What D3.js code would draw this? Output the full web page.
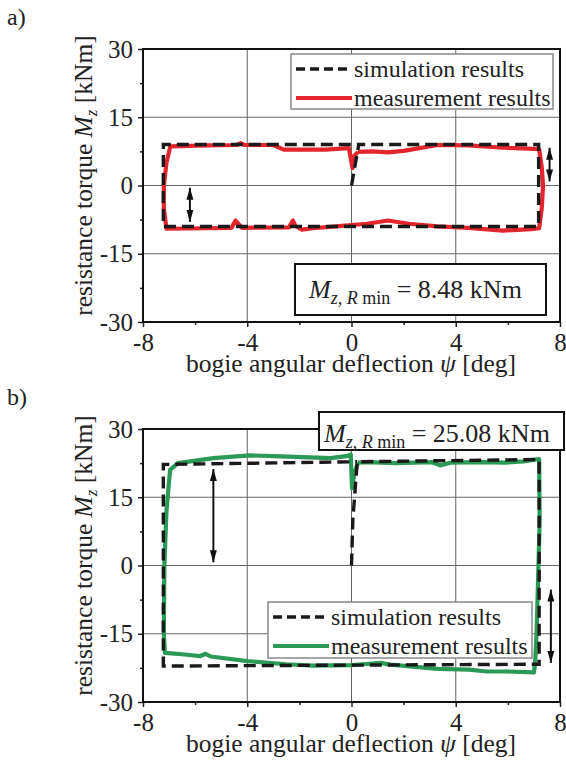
<!DOCTYPE html>
<html>
<head>
<meta charset="utf-8">
<script src="https://cdn.jsdelivr.net/npm/d3@7"></script>
<style>
  body { margin: 0; background: #fff; }
  text { font-family: 'Liberation Serif', 'Times New Roman', serif; fill: #222; }
</style>
</head>
<body>
<div id="chart"></div>
<script>
// ticks and labels
let xMajor = [-8, -4, 0, 4, 8],
    xMinor = [-6, -2, 2, 6],
    yMajor = [-30, -15, 0, 15, 30],
    yMinor = [-22.5, -7.5, 7.5, 22.5];

let legendLabels = ['simulation results', 'measurement results'];

// a) [psi deg, Mz kNm]
let simA = [[0, 0], [0.28, 9.0], [7.18, 9.0], [7.18, -9.0], [-7.22, -9.0], [-7.22, 9.0], [0.28, 9.0]];
let measA = [
    [0.25, 7.4], [0.8, 7.5], [1.4, 7.3], [2.0, 7.6], [2.5, 8.1], [3.3, 8.9], [4.5, 8.8], [5.8, 8.3], [6.8, 8.1], [7.2, 8.0],
    [7.3, 4], [7.35, 0], [7.3, -5], [7.2, -9.4],
    [6.9, -9.6], [5.8, -9.9], [4.5, -9.3], [3.3, -9.0], [2.2, -8.4], [1.4, -7.7], [0.6, -8.4], [-0.6, -9.0], [-1.5, -9.4],
    [-1.9, -9.7], [-2.15, -8.9], [-2.25, -7.7], [-2.4, -9.2], [-4.2, -9.3], [-4.45, -7.7], [-4.6, -9.3], [-5.5, -9.4], [-7.1, -9.5],
    [-7.2, -5], [-7.2, 0], [-7.1, 5], [-6.95, 8.6],
    [-5.5, 8.8], [-4.4, 8.9], [-4.25, 9.3], [-4.1, 8.9], [-3.0, 8.9], [-2.6, 7.9], [-1.0, 7.9], [-0.1, 8.2],
    [0.04, 3.8], [0.1, 6.5], [0.25, 7.4]
];
let arrowsA = [[-6.2, -0.5, -8.0], [7.6, 8.3, 0.9]];
let minA = '8.48';

// b)
let simB = [[0, 0], [0.05, 10], [0.22, 22.8], [7.2, 23.3], [7.2, -21.7], [0, -21.9], [-7.22, -22.1], [-7.22, 22.2], [0.22, 22.8]];
let measB = [
    [0.25, 22.6], [0.6, 22.7], [1.7, 22.5], [3.1, 22.7], [3.4, 22.0], [3.8, 22.6], [5.0, 22.7], [5.9, 22.6], [6.6, 22.9], [7.2, 23.4],
    [7.22, 10], [7.15, -5], [7.1, -15], [7.05, -21], [7.0, -23.5],
    [6.0, -23.3], [5.2, -23.3], [4.5, -22.9], [3.3, -22.7], [1.5, -21.8], [1.1, -21.4], [0.7, -21.6], [0.0, -21.9],
    [-1.5, -22.0], [-2.5, -21.7], [-4.0, -21.0], [-5.4, -20.0], [-5.6, -19.4], [-5.8, -19.9], [-6.5, -19.5], [-7.16, -19.2],
    [-7.2, -15], [-7.18, 0], [-7.1, 12], [-6.96, 21.0], [-6.66, 22.5], [-5.3, 23.6], [-3.9, 24.2], [-2.7, 24.0],
    [-0.8, 23.6], [-0.13, 24.1], [-0.03, 24.4], [0.02, 17.0], [0.12, 20.5], [0.25, 22.6]
];
let arrowsB = [[-5.3, 21.2, 0.7], [7.65, -5.3, -21.4]];
let minB = '25.08';

let width = 566, height = 760;

let svg = d3.select('#chart').append('svg')
    .attr('width', width)
    .attr('height', height);

svg.append('defs').append('marker')
    .attr('id', 'head')
    .attr('viewBox', '0 -4 12 8')
    .attr('refX', 12)
    .attr('refY', 0)
    .attr('markerWidth', 12)
    .attr('markerHeight', 8)
    .attr('markerUnits', 'userSpaceOnUse')
    .attr('orient', 'auto-start-reverse')
    .append('path')
    .attr('d', 'M0,-3.5L12,0L0,3.5Z')
    .attr('fill', '#111');

function drawPanel(p) {
    let x = d3.scaleLinear().domain([-8, 8]).range([143, 560]);
    let y = d3.scaleLinear().domain([-30, 30]).range([p.bottom, p.top]);
    let g = svg.append('g');

    svg.append('text')
        .attr('x', 7)
        .attr('y', p.tagY)
        .style('font-size', '24px')
        .text(p.tag);

    // grid
    g.append('g').selectAll('line')
        .data(xMajor.slice(1, -1))
        .join('line')
        .attr('x1', d => x(d)).attr('x2', d => x(d))
        .attr('y1', p.top).attr('y2', p.bottom)
        .attr('stroke', '#666').attr('stroke-width', 1);

    g.append('g').selectAll('line')
        .data(yMajor.slice(1, -1))
        .join('line')
        .attr('y1', d => y(d)).attr('y2', d => y(d))
        .attr('x1', x(-8)).attr('x2', x(8))
        .attr('stroke', '#666').attr('stroke-width', 1);

    // axes
    let styleAxis = sel => {
        sel.select('.domain').remove();
        sel.attr('font-family', null).attr('font-size', null).style('color', '#222');
        sel.selectAll('line').attr('stroke-width', 1.5);
        sel.selectAll('text').style('font-size', '25px');
    };

    g.append('g')
        .attr('transform', `translate(0,${p.bottom})`)
        .call(d3.axisBottom(x).tickValues(xMajor).tickSize(5).tickPadding(6).tickFormat(d => String(d)))
        .call(styleAxis);

    g.append('g')
        .attr('transform', `translate(0,${p.bottom})`)
        .call(d3.axisBottom(x).tickValues(xMinor).tickSize(3).tickFormat(''))
        .call(styleAxis);

    g.append('g')
        .attr('transform', `translate(${x(-8)},0)`)
        .call(d3.axisLeft(y).tickValues(yMajor).tickSize(5).tickPadding(5).tickFormat(d => String(d)))
        .call(styleAxis);

    g.append('g')
        .attr('transform', `translate(${x(-8)},0)`)
        .call(d3.axisLeft(y).tickValues(yMinor).tickSize(3).tickFormat(''))
        .call(styleAxis);

    // curves
    let line = d3.line()
        .x(d => x(d[0]))
        .y(d => y(d[1]));

    g.append('path')
        .datum(p.meas)
        .attr('d', line)
        .attr('fill', 'none')
        .attr('stroke', p.color)
        .attr('stroke-width', 4.2)
        .attr('stroke-linejoin', 'round');

    g.append('path')
        .datum(p.sim)
        .attr('d', line)
        .attr('fill', 'none')
        .attr('stroke', '#1a1a1a')
        .attr('stroke-width', 3.4)
        .attr('stroke-dasharray', '12,6');

    // double arrows
    g.append('g').selectAll('line')
        .data(p.arrows)
        .join('line')
        .attr('x1', d => x(d[0])).attr('x2', d => x(d[0]))
        .attr('y1', d => y(d[1])).attr('y2', d => y(d[2]))
        .attr('stroke', '#111')
        .attr('stroke-width', 2)
        .attr('marker-start', 'url(#head)')
        .attr('marker-end', 'url(#head)');

    // legend
    let lg = g.append('g');
    lg.append('rect')
        .attr('x', p.legend.x).attr('y', p.legend.y)
        .attr('width', p.legend.w).attr('height', p.legend.h)
        .attr('fill', '#fff')
        .attr('stroke', '#888').attr('stroke-width', 1.5);

    legendLabels.forEach((label, i) => {
        let ly = p.legend.y + p.legend.row0 + i * p.legend.step;
        lg.append('line')
            .attr('x1', p.legend.x + 5).attr('x2', p.legend.x + 61)
            .attr('y1', ly).attr('y2', ly)
            .attr('stroke', i === 0 ? '#1a1a1a' : p.color)
            .attr('stroke-width', i === 0 ? 3.4 : 4.2)
            .attr('stroke-dasharray', i === 0 ? '9,5' : null);
        lg.append('text')
            .attr('x', p.legend.x + 63)
            .attr('y', ly + 8)
            .style('font-size', '24px')
            .text(label);
    });

    // M_z,R min box
    let nb = svg.append('g');
    nb.append('rect')
        .attr('x', p.note.x).attr('y', p.note.y)
        .attr('width', p.note.w).attr('height', p.note.h)
        .attr('fill', '#fff')
        .attr('stroke', '#111').attr('stroke-width', 2);

    let nt = nb.append('text')
        .attr('x', p.note.x + p.note.pad)
        .attr('y', p.note.y + p.note.base)
        .style('font-size', '26px');
    nt.append('tspan').style('font-style', 'italic').text('M');
    nt.append('tspan').attr('dy', 6).style('font-size', '18px').style('font-style', 'italic').text('z, R');
    nt.append('tspan').style('font-size', '18px').text(' min');
    nt.append('tspan').attr('dy', -6).text(` = ${p.min} kNm`);

    // frame
    g.append('rect')
        .attr('x', x(-8)).attr('y', p.top)
        .attr('width', x(8) - x(-8)).attr('height', p.bottom - p.top)
        .attr('fill', 'none')
        .attr('stroke', '#111').attr('stroke-width', 2);

    svg.node().appendChild(nb.node());

    // axis titles
    let yt = svg.append('text')
        .attr('transform', `translate(92,${(p.top + p.bottom) / 2 - 10}) rotate(-90)`)
        .attr('text-anchor', 'middle')
        .style('font-size', '25.5px');
    yt.append('tspan').text('resistance torque ');
    yt.append('tspan').style('font-style', 'italic').text('M');
    yt.append('tspan').attr('dy', 5).style('font-size', '17px').style('font-style', 'italic').text('z');
    yt.append('tspan').attr('dy', -5).text(' [kNm]');

    let xt = svg.append('text')
        .attr('x', 351)
        .attr('y', p.bottom + 50)
        .attr('text-anchor', 'middle')
        .style('font-size', '25.5px');
    xt.append('tspan').text('bogie angular deflection ');
    xt.append('tspan').style('font-style', 'italic').text('ψ');
    xt.append('tspan').text(' [deg]');
}

drawPanel({
    tag: 'a)', tagY: 25, top: 49, bottom: 322,
    sim: simA, meas: measA, color: '#e3262d', arrows: arrowsA, min: minA,
    legend: {x: 291, y: 54, w: 262, h: 55, row0: 15, step: 29},
    note: {x: 295, y: 264, w: 251, h: 51, base: 34, pad: 14}
});

drawPanel({
    tag: 'b)', tagY: 405, top: 429, bottom: 702,
    sim: simB, meas: measB, color: '#2b9a57', arrows: arrowsB, min: minB,
    legend: {x: 268, y: 602, w: 264, h: 56, row0: 15, step: 29},
    note: {x: 319, y: 412, w: 245, h: 38, base: 30, pad: 5}
});
</script>
</body>
</html>
